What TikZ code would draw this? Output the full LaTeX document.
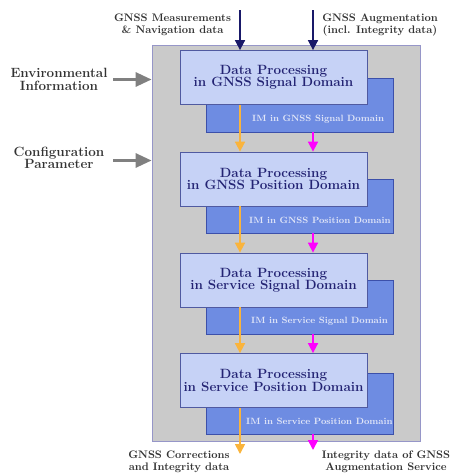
\documentclass[tikz,border=0pt]{standalone}
\usetikzlibrary{arrows.meta}
\definecolor{framegrey}{RGB}{202,202,202}
\definecolor{frameedge}{RGB}{150,150,200}
\definecolor{lightfill}{RGB}{198,210,246}
\definecolor{lightedge}{RGB}{80,90,160}
\definecolor{darkfill}{RGB}{110,140,226}
\definecolor{darkedge}{RGB}{60,80,170}
\definecolor{navytext}{RGB}{35,35,115}
\definecolor{imtext}{RGB}{225,230,248}
\definecolor{navyarrow}{RGB}{25,25,105}
\definecolor{orangearrow}{RGB}{250,180,60}
\definecolor{magentaarrow}{RGB}{255,0,255}
\definecolor{greyarrow}{RGB}{128,128,128}
\tikzset{
  framebox/.style={draw=frameedge, fill=framegrey, line width=0.8pt, minimum width=268pt, minimum height=396pt, inner sep=0pt},
  procbox/.style={draw=lightedge, fill=lightfill, line width=0.8pt, minimum width=187pt, minimum height=54pt, inner sep=0pt, align=center, text=navytext, font=\fontsize{13.4}{12.2}\selectfont\bfseries},
  imbox/.style={draw=darkedge, fill=darkfill, line width=0.8pt, minimum width=187pt, inner sep=0pt},
  imlabel/.style={anchor=west, text=imtext, inner sep=0pt, font=\fontsize{9.1}{10}\selectfont\bfseries},
  outerlabel/.style={align=center, inner sep=0pt, text=black!80, font=\fontsize{10.9}{12.2}\selectfont\bfseries},
  sidelabel/.style={align=center, inner sep=0pt, text=black!80, font=\fontsize{13.4}{12.6}\selectfont\bfseries},
  inarrow/.style={draw=navyarrow, line width=1.7pt, -{Triangle[width=10pt,length=10pt]}},
  sigarrow/.style={draw=orangearrow, line width=1.7pt, -{Triangle[width=10pt,length=10pt]}},
  intarrow/.style={draw=magentaarrow, line width=1.7pt, -{Triangle[width=10pt,length=10pt]}},
  envarrow/.style={draw=greyarrow, line width=3pt, -{Triangle[width=14pt,length=16pt]}}
}
\begin{document}
\begin{tikzpicture}[x=1pt,y=-1pt]
\useasboundingbox (0,0) rectangle (452,474);
\node[framebox] (frame) at (286,243) {};
% IM boxes
\node[imbox, minimum height=54pt] (im1) at (299.5,105) {};
\node[imbox, minimum height=54pt] (im2) at (299.5,206) {};
\node[imbox, minimum height=54pt] (im3) at (299.5,307) {};
\node[imbox, minimum height=61pt] (im4) at (299.5,403.5) {};
\node[imlabel] (iml1) at (252,119) {IM in GNSS Signal Domain};
\node[imlabel] (iml2) at (249,220) {IM in GNSS Position Domain};
\node[imlabel] (iml3) at (251,321) {IM in Service Signal Domain};
\node[imlabel] (iml4) at (246,421) {IM in Service Position Domain};
% processing boxes
\node[procbox] (p1) at (273.5,77.5) {Data Processing\\in GNSS Signal Domain};
\node[procbox] (p2) at (273.5,179) {Data Processing\\in GNSS Position Domain};
\node[procbox] (p3) at (273.5,280) {Data Processing\\in Service Signal Domain};
\node[procbox] (p4) at (273.5,380.5) {Data Processing\\in Service Position Domain};
% outer labels
\node[outerlabel] (meas) at (172.5,25) {GNSS Measurements\\\& Navigation data};
\node[outerlabel] (aug) at (380,25) {GNSS Augmentation\\(incl. Integrity data)};
\node[sidelabel] (env) at (59,79.5) {Environmental\\Information};
\node[sidelabel] (conf) at (59,158) {Configuration\\Parameter};
\node[outerlabel] (corr) at (179,461.5) {GNSS Corrections\\and Integrity data};
\node[outerlabel] (integ) at (386,461.5) {Integrity data of GNSS\\Augmentation Service};
% free ends and columns
\coordinate (measin) at (240,10);
\coordinate (augin) at (313,10);
\coordinate (corrout) at (240,454);
\coordinate (integout) at (313,450);
\coordinate (envs) at (113,79.5);
\coordinate (confs) at (113,160.5);
% arrows
\draw[inarrow] (measin) -- (measin |- p1.north);
\draw[inarrow] (augin) -- (augin |- p1.north);
\draw[envarrow] (envs) -- (frame.west |- envs);
\draw[envarrow] (confs) -- (frame.west |- confs);
\foreach \a/\b in {1/2,2/3,3/4}{
  \draw[sigarrow] (measin |- p\a.south) -- (measin |- p\b.north);
  \draw[intarrow] (augin |- im\a.south) -- (augin |- p\b.north);
}
\draw[sigarrow] (corrout |- p4.south) -- (corrout);
\draw[intarrow] (integout |- im4.south) -- (integout);
\end{tikzpicture}
\end{document}
